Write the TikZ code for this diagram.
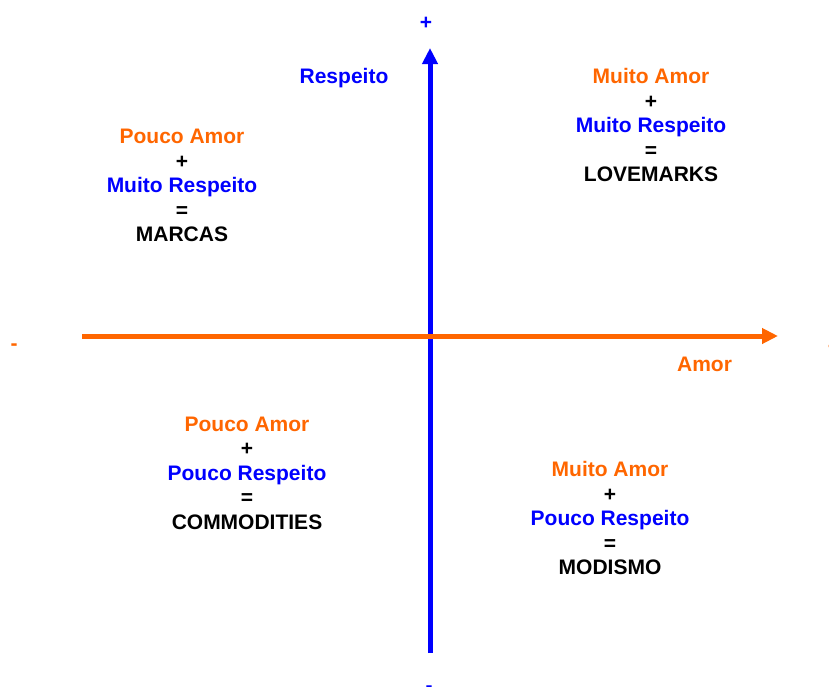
\documentclass[tikz,border=0pt]{standalone}
\usepackage{fontspec}
\setmainfont{Liberation Sans}
\usetikzlibrary{arrows.meta}
\definecolor{amor}{RGB}{255,102,0}
\definecolor{resp}{RGB}{0,0,255}
\begin{document}
\begin{tikzpicture}[x=1pt,y=-1pt,
  axis/.style={line width=5pt,-{Triangle[length=16pt,width=15pt]}},
  lbl/.style={inner sep=0pt,font=\fontsize{21}{24.5}\selectfont\bfseries},
  block/.style={lbl,align=center,anchor=center}]
\useasboundingbox (0,0) rectangle (829,686);
% axes
\coordinate (vb) at (430,653);
\coordinate (vt) at (430,48);
\coordinate (hl) at (82,336);
\coordinate (hr) at (778,336);
\draw[axis,resp] (vb) -- (vt);
\draw[axis,amor] (hl) -- (hr);
% axis end signs
\node[lbl,resp] (plustop) at (426,23) {+};
\node[lbl,resp] (minusbot) at (429,689) {-};
\node[lbl,amor] (minusleft) at (14,347) {-};
\node[lbl,amor] (plusright) at (834,347) {+};
% axis labels
\node[lbl,resp,anchor=base] (respeito) at (344,83) {Respeito};
\node[lbl,amor,anchor=base] (amorlbl) at (704.5,371) {Amor};
% quadrants
\node[block] (marcas) at (182,185.5) {\textcolor{amor}{Pouco Amor}\\+\\\textcolor{resp}{Muito Respeito}\\=\\MARCAS};
\node[block] (lovemarks) at (651,125) {\textcolor{amor}{Muito Amor}\\+\\\textcolor{resp}{Muito Respeito}\\=\\LOVEMARKS};
\node[block] (commodities) at (247,473) {\textcolor{amor}{Pouco Amor}\\+\\\textcolor{resp}{Pouco Respeito}\\=\\COMMODITIES};
\node[block] (modismo) at (610,518) {\textcolor{amor}{Muito Amor}\\+\\\textcolor{resp}{Pouco Respeito}\\=\\MODISMO};
\end{tikzpicture}
\end{document}
